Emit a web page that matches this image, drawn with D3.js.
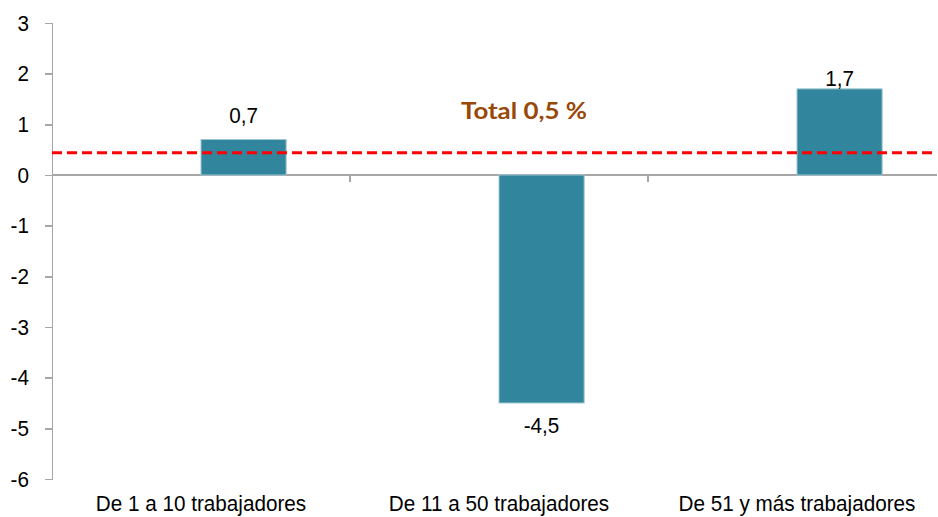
<!DOCTYPE html>
<html>
<head>
<meta charset="utf-8">
<script src="https://cdn.jsdelivr.net/npm/d3@7"></script>
<style>
    body { margin: 0; background: #fff; }
    svg { display: block; }
    .axis path, .axis line { stroke: #a6a6a6; stroke-width: 1.5px; shape-rendering: crispEdges; }
    .axis text { font-family: "Liberation Sans", Arial, sans-serif; font-size: 22px; fill: #000; }
</style>
</head>
<body>
<script>
//chart data
var categories = ["De 1 a 10 trabajadores", "De 11 a 50 trabajadores", "De 51 y más trabajadores"];
var values = [0.7, -4.5, 1.7];
var valueLabels = ["0,7", "-4,5", "1,7"];
var yTicks = [3, 2, 1, 0, -1, -2, -3, -4, -5, -6];
var totalLine = 0.44;
var totalLabel = "Total 0,5 %";

window.onload = drawChart();

//the original text is a little narrower than arial, squeeze it
function squeeze(sel, k){
    sel.each(function(){
        var w = this.getComputedTextLength();
        d3.select(this)
            .attr("textLength", w * k)
            .attr("lengthAdjust", "spacingAndGlyphs");
    });
}

function drawChart(){
    var width = 938,
        height = 517;

    var svg = d3.select("body")
        .append("svg")
        .attr("width", width)
        .attr("height", height);

    //category scale, plot runs past the right edge like the original
    var x = d3.scaleBand()
        .domain(categories)
        .range([52, 946]);

    //two slots per category (the first one is empty), excel gap width 150%
    var xSlot = d3.scaleBand()
        .domain(["blank", "value"])
        .range([0, x.bandwidth()])
        .paddingOuter(0.75);

    var y = d3.scaleLinear()
        .domain([-6, 3])
        .range([479, 23]);

    //y axis
    var yAxis = svg.append("g")
        .attr("class", "axis")
        .attr("transform", "translate(52,0)")
        .call(d3.axisLeft(y).tickValues(yTicks).tickSize(7).tickPadding(16).tickSizeOuter(7)
            .tickFormat(function(d){ return String(d); }));
    squeeze(yAxis.selectAll("text"), 0.94);

    //x axis at zero
    var xAxis = svg.append("g")
        .attr("class", "axis")
        .attr("transform", "translate(0," + y(0) + ")")
        .call(d3.axisBottom(x).tickSize(0).tickFormat(""));
    xAxis.select(".domain").attr("d", "M52,0H937");

    //tick marks between categories
    xAxis.selectAll(".sep")
        .data(categories.slice(1))
        .enter()
        .append("line")
        .attr("class", "sep")
        .attr("x1", function(d){ return x(d); })
        .attr("x2", function(d){ return x(d); })
        .attr("y1", 0)
        .attr("y2", 7);

    //category labels at the bottom
    var cats = svg.selectAll(".cat")
        .data(categories)
        .enter()
        .append("text")
        .attr("class", "cat")
        .attr("x", function(d){ return x(d) + x.bandwidth() / 2; })
        .attr("y", 511)
        .attr("text-anchor", "middle")
        .style("font-family", "'Liberation Sans', Arial, sans-serif")
        .style("font-size", "22px")
        .text(function(d){ return d; });
    squeeze(cats, 0.94);

    //bars
    svg.selectAll(".bar")
        .data(values)
        .enter()
        .append("rect")
        .attr("class", "bar")
        .attr("x", function(d, i){ return x(categories[i]) + xSlot("value"); })
        .attr("y", function(d){ return y(Math.max(0, d)); })
        .attr("width", xSlot.bandwidth())
        .attr("height", function(d){ return Math.abs(y(d) - y(0)); })
        .attr("fill", "#31859c")
        .attr("stroke", "#9cc7d3")
        .attr("stroke-width", 1);

    //value labels (excel placed them a bit unevenly)
    var labelDy = [-17, 30, -3];
    var vals = svg.selectAll(".val")
        .data(values)
        .enter()
        .append("text")
        .attr("class", "val")
        .attr("x", function(d, i){ return x(categories[i]) + xSlot("value") + xSlot.bandwidth() / 2; })
        .attr("y", function(d, i){ return y(d) + labelDy[i]; })
        .attr("text-anchor", "middle")
        .style("font-family", "'Liberation Sans', Arial, sans-serif")
        .style("font-size", "22px")
        .text(function(d, i){ return valueLabels[i]; });
    squeeze(vals, 0.94);

    //total reference line
    svg.append("line")
        .attr("x1", 52)
        .attr("x2", 935)
        .attr("y1", y(totalLine))
        .attr("y2", y(totalLine))
        .attr("stroke", "#ff0000")
        .attr("stroke-width", 3)
        .attr("stroke-dasharray", "10,5");

    svg.append("text")
        .attr("x", 524)
        .attr("y", 119)
        .attr("text-anchor", "middle")
        .attr("textLength", 126)
        .attr("lengthAdjust", "spacingAndGlyphs")
        .style("font-family", "Lato, sans-serif")
        .style("font-weight", "bold")
        .style("font-size", "22px")
        .style("fill", "#984807")
        .text(totalLabel);
}
</script>
</body>
</html>
